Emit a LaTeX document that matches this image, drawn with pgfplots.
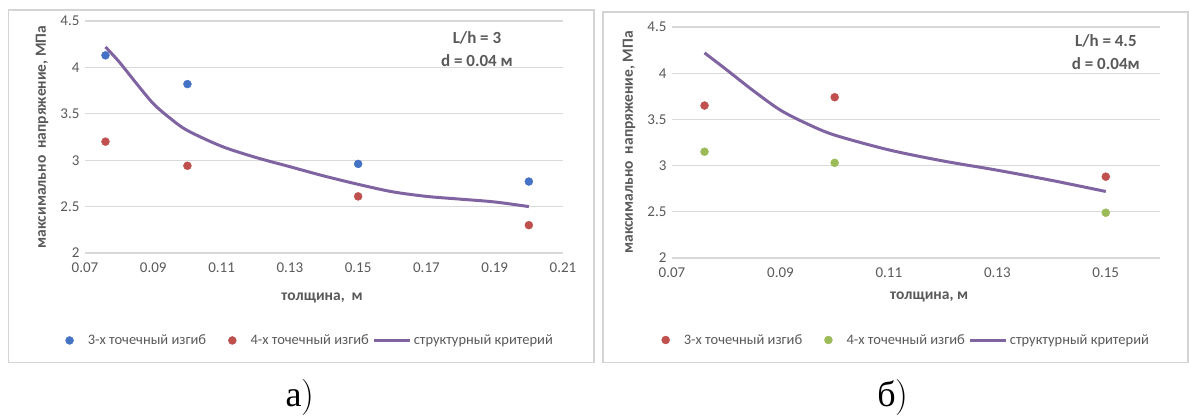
\documentclass[border=0pt]{standalone}
\usepackage{fontspec}
\setmainfont{Carlito}
\newfontfamily\capfont{Liberation Serif}
\newfontfamily\lmr{Latin Modern Roman}
\usepackage{pgfplots}
\pgfplotsset{compat=1.18}
\definecolor{cblue}{RGB}{68,114,196}
\definecolor{cred}{RGB}{192,80,77}
\definecolor{cgreen}{RGB}{155,187,89}
\definecolor{cpurple}{RGB}{128,100,162}
\definecolor{cgrid}{RGB}{217,217,217}
\definecolor{ctext}{RGB}{89,89,89}
\definecolor{cframe}{RGB}{212,212,212}
\pgfplotsset{
  myax/.style={
    scale only axis, anchor=south west, clip=false,
    axis line style={draw=none}, major tick length=0pt,
    ymajorgrids, grid style={cgrid, line width=1.2pt},
    tick label style={font=\fontsize{15}{17}\selectfont, text=ctext},
    yticklabel style={xshift=-2pt},
    xticklabel style={yshift=-6pt},
    ymin=2, ymax=4.5, ytick={2,2.5,3,3.5,4,4.5}, yticklabels={2,2.5,3,3.5,4,4.5},
    xlabel style={font=\bfseries\fontsize{15.5}{17}\selectfont, text=ctext, anchor=center},
    ylabel style={font=\bfseries\fontsize{15.5}{17}\selectfont, text=ctext, anchor=center, at={(axis description cs:0,0.5)}, yshift=43pt},
    legend style={draw=none, fill=none, legend columns=3, anchor=center,
      font=\fontsize{14.5}{16}\selectfont, text=ctext, inner sep=0pt,
      /tikz/column 2/.style={column sep=20pt},
      /tikz/column 4/.style={column sep=2pt}},
  },
  dotA/.style={only marks, mark=*, mark size=4pt, color=#1,
    legend image code/.code={\path (0pt,0pt) (19pt,0pt); \fill[#1] (3pt,0pt) circle (4pt);}},
  curve/.style={color=cpurple, line width=3pt, smooth, no marks,
    legend image code/.code={\draw[cpurple, line width=3pt] (0pt,0pt) -- (36pt,0pt);}},
}
\begin{document}
\begin{tikzpicture}
\useasboundingbox (0pt,0pt) rectangle (1189pt,417pt);
\draw[cframe, line width=1.2pt] (8.5pt,407pt) rectangle (594pt,54.5pt);
\draw[cframe, line width=1.2pt] (603pt,405pt) rectangle (1188pt,54.5pt);

% ---------- a) ----------
\begin{axis}[myax, at={(85pt,164pt)}, width=478pt, height=232pt,
  xmin=0.07, xmax=0.21,
  xtick={0.07,0.09,0.11,0.13,0.15,0.17,0.19,0.21},
  xticklabels={0.07,0.09,0.11,0.13,0.15,0.17,0.19,0.21},
  xlabel={толщина,\ \ м},
  xlabel style={at={(axis description cs:0.496,-0.194)}},
  ylabel={максимально\ \ напряжение,\ МПа},
  legend style={at={(axis description cs:0.471,-0.377)}},
]
\addplot[dotA=cblue] coordinates {(0.076,4.13) (0.1,3.82) (0.15,2.96) (0.2,2.77)};
\addlegendentry{3-х точечный изгиб}
\addplot[dotA=cred] coordinates {(0.076,3.20) (0.1,2.94) (0.15,2.61) (0.2,2.30)};
\addlegendentry{4-х точечный изгиб}
\addplot[curve] coordinates {(0.076,4.22) (0.08,4.06) (0.085,3.83) (0.09,3.61) (0.095,3.45) (0.1,3.32) (0.11,3.15) (0.12,3.03) (0.13,2.93) (0.14,2.83) (0.15,2.74) (0.16,2.66) (0.17,2.61) (0.18,2.58) (0.19,2.55) (0.2,2.50)};
\addlegendentry{структурный критерий}
\node[font=\bfseries\fontsize{17}{23}\selectfont, text=ctext, align=center] at (rel axis cs:0.82,0.877) {L/h = 3\\d = 0.04 м};
\end{axis}

% ---------- b) ----------
\begin{axis}[myax, at={(672pt,159pt)}, width=488pt, height=231pt,
  xmin=0.07, xmax=0.16,
  xtick={0.07,0.09,0.11,0.13,0.15},
  xticklabels={0.07,0.09,0.11,0.13,0.15},
  xlabel={толщина, м},
  xlabel style={at={(axis description cs:0.527,-0.169)}},
  ylabel={максимально\ \ напряжение,\ МПа},
  legend style={at={(axis description cs:0.48,-0.355)}},
]
\addplot[dotA=cred] coordinates {(0.076,3.65) (0.1,3.74) (0.15,2.88)};
\addlegendentry{3-х точечный изгиб}
\addplot[dotA=cgreen] coordinates {(0.076,3.15) (0.1,3.03) (0.15,2.49)};
\addlegendentry{4-х точечный изгиб}
\addplot[curve] coordinates {(0.076,4.22) (0.08,4.04) (0.085,3.81) (0.09,3.60) (0.095,3.45) (0.1,3.33) (0.11,3.17) (0.12,3.05) (0.13,2.95) (0.14,2.84) (0.15,2.72)};
\addlegendentry{структурный критерий}
\node[font=\bfseries\fontsize{17}{23}\selectfont, text=ctext, align=center] at (rel axis cs:0.889,0.892) {L/h = 4.5\\d = 0.04м};
\end{axis}

\node[font=\fontsize{36}{40}\selectfont] at (300pt,19pt) {{\capfont а}{\lmr )}};
\node[font=\fontsize{36}{40}\selectfont] at (893pt,19pt) {{\capfont б}{\lmr )}};
\end{tikzpicture}
\end{document}
